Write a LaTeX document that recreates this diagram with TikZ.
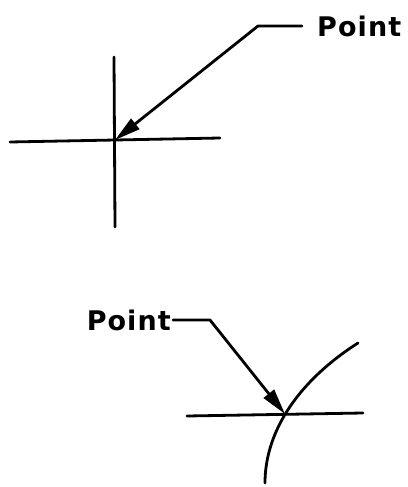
\documentclass[tikz,border=0pt]{standalone}
\usepackage{fontspec}
\usetikzlibrary{arrows.meta}
\newfontfamily\labelfont[LetterSpace=4]{DejaVu Sans}

\begin{document}
\begin{tikzpicture}[
    x=1pt, y=-1pt,
    stroke/.style={
        line width=2.8pt,
        line cap=round,
        line join=round
    },
    leader/.style={stroke, -{Triangle[length=26pt, width=13pt]}},
    pointlabel/.style={
        font=\labelfont\bfseries\fontsize{27}{30}\selectfont,
        inner ysep=0pt
    }
]
\useasboundingbox (0,0) rectangle (407,487);

% crossing lines
\coordinate (vtop) at (114,57);
\coordinate (vbot) at (115,227);
\coordinate (hleft) at (10,142);
\coordinate (hright) at (220,138);
\coordinate (tipA) at (115,140);
\draw[stroke] (vtop) -- (vbot);
\draw[stroke] (hleft) -- (hright);

\node[pointlabel, inner xsep=15pt, anchor=west] (lblA) at (302,26) {Point};
\coordinate (elbowA) at (258,26);
\draw[leader] (lblA.west) -- (elbowA) -- (tipA);

% line and curve
\coordinate (lineL) at (187,416);
\coordinate (lineR) at (363,413);
\coordinate (arcTop) at (358,343);
\coordinate (arcBot) at (265,483);
\coordinate (tipB) at (285,414);
\draw[stroke] (lineL) -- (lineR);
\draw[stroke] (arcTop) .. controls (300,380) and (265,430) .. (arcBot);

\node[pointlabel, inner xsep=2pt, anchor=east] (lblB) at (173,320) {Point};
\coordinate (elbowB) at (210,320);
\draw[leader] (lblB.east) -- (elbowB) -- (tipB);

\end{tikzpicture}
\end{document}
